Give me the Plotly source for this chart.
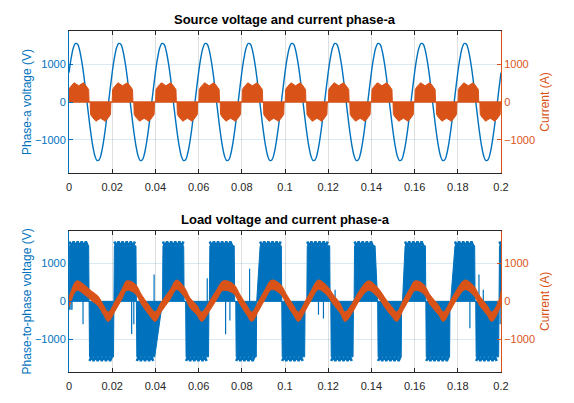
import numpy as np
import plotly.graph_objects as go
from plotly.subplots import make_subplots

BLUE = '#0072BD'
ORANGE = '#D95319'
TEXT = '#262626'
FONT = 'Liberation Sans, Arial, Helvetica, sans-serif'

# time axis (s)
t_ticks = [0, 0.02, 0.04, 0.06, 0.08, 0.1, 0.12, 0.14, 0.16, 0.18, 0.2]
t_tick_labels = ['0', '0.02', '0.04', '0.06', '0.08', '0.1', '0.12', '0.14', '0.16', '0.18', '0.2']
y_ticks = [-1000, 0, 1000]

# ---- source side ----
# phase-a source voltage, one 20 ms cycle read every 1 ms (the trace shows 10 equal cycles)
src_v_step = 0.001
src_v_cycle = [780, 1160, 1430, 1550, 1530, 1350, 1040, 640, 160, -320,
               -780, -1160, -1430, -1550, -1530, -1350, -1040, -640, -160, 320]
src_cycles = 10

# source current: conduction blocks and the (ripple-filled) block envelope
src_i_block_start = [-0.0003, 0.0098, 0.0200, 0.0300, 0.0401, 0.0500, 0.0601, 0.0700,
                     0.0801, 0.0900, 0.1001, 0.1100, 0.1201, 0.1300, 0.1401, 0.1500,
                     0.1601, 0.1700, 0.1801, 0.1902]
src_i_block_sign = [1, -1] * 10
src_i_block_width = 0.0096
src_i_env_frac = [0.0, 0.02, 0.10, 0.20, 0.28, 0.36, 0.50, 0.64, 0.72, 0.80, 0.90, 0.98, 1.0]
src_i_env_amp = [0, 330, 400, 470, 510, 480, 430, 480, 510, 470, 400, 330, 0]
src_i_idle_t = [0, 0.2]
src_i_idle = [0, 0]

# ---- load side ----
# phase-to-phase voltage: switching blocks (start, end, polarity, edge times)
load_v_start = [0.0000, 0.0093, 0.0208, 0.0312, 0.0433, 0.0540, 0.0650, 0.0772, 0.0869, 0.0985,
                0.1101, 0.1212, 0.1320, 0.1429, 0.1544, 0.1652, 0.1767, 0.1883, 0.1991]
load_v_end = [0.0093, 0.0208, 0.0312, 0.0433, 0.0533, 0.0648, 0.0767, 0.0869, 0.0985, 0.1093,
              0.1209, 0.1317, 0.1429, 0.1540, 0.1652, 0.1764, 0.1880, 0.1991, 0.2010]
load_v_sign = [1, -1, 1, -1, 1, -1, 1, -1, 1, -1, 1, -1, 1, -1, 1, -1, 1, -1, 1]
load_v_rise = [0.0002, 0.0002, 0.0002, 0.0002, 0.0002, 0.0002, 0.0002, 0.0002, 0.0016, 0.0002,
               0.0002, 0.0002, 0.0002, 0.0002, 0.0012, 0.0002, 0.0020, 0.0002, 0.0002]
load_v_fall = [0.0002, 0.0002, 0.0002, 0.0036, 0.0002, 0.0002, 0.0002, 0.0002, 0.0002, 0.0002,
               0.0002, 0.0002, 0.0012, 0.0002, 0.0002, 0.0002, 0.0002, 0.0002, 0.0002]
load_v_level = 1450
load_v_peak = 1560
load_v_dip = 1430
load_v_ripple = 0.0019
# narrow opposite-polarity pulses inside blocks
load_v_spike_t = [0.0003, 0.0009, 0.0014, 0.0065, 0.0290, 0.0300, 0.0394, 0.0640, 0.0725,
                  0.0745, 0.0836, 0.1155, 0.1178, 0.1232, 0.1856, 0.1898, 0.1918, 0.1996]
load_v_spike_v = [-220, -220, -220, -600, -850, -600, 700, 600, -860,
                  -500, 850, -350, -450, 300, -700, 700, 300, -600]

# load current phase-a: band centre read at each step, and band half-width
load_i_t = [0.0000, 0.0005, 0.0036, 0.0074, 0.0105, 0.0136, 0.0159, 0.0182, 0.0213, 0.0244,
            0.0267, 0.0306, 0.0336, 0.0375, 0.0398, 0.0429, 0.0468, 0.0498, 0.0537, 0.0560,
            0.0591, 0.0614, 0.0653, 0.0684, 0.0714, 0.0761, 0.0792, 0.0822, 0.0846, 0.0877,
            0.0907, 0.0938, 0.0977, 0.1008, 0.1038, 0.1062, 0.1093, 0.1123, 0.1154, 0.1193,
            0.1224, 0.1255, 0.1278, 0.1316, 0.1340, 0.1386, 0.1432, 0.1463, 0.1494, 0.1517,
            0.1548, 0.1579, 0.1602, 0.1640, 0.1671, 0.1710, 0.1733, 0.1764, 0.1795, 0.1833,
            0.1872, 0.1903, 0.1934, 0.1957, 0.1995, 0.2000]
load_i_mid = [-30, 60, 410, 290, 140, 0, -220, -400, -130, 175,
              410, 330, 45, -260, -400, -130, 175, 430, 215, -40,
              -220, -400, -100, 175, 410, 330, 45, -220, -400, -130,
              175, 430, 330, 45, -220, -400, -130, 175, 430, 290,
              45, -175, -400, -130, 110, 410, 215, -40, -260, -400,
              -90, 215, 410, 330, 45, -220, -400, -130, 175, 430,
              290, 0, -220, -400, -40, 150]
load_i_spread = 125


def envelope(sign_wanted):
    # one edge of the voltage band: flat level where the block has this polarity, 0 elsewhere
    xs, ys = [], []
    for s, e, sg, r, f in zip(load_v_start, load_v_end, load_v_sign, load_v_rise, load_v_fall):
        xs.append(s)
        ys.append(0)
        if sg == sign_wanted:
            xs += [s + r, e - f]
            ys += [sg * load_v_level, sg * load_v_level]
        xs.append(e)
        ys.append(0)
    return xs, ys


def ripple_edges():
    # scalloped top/bottom of each switching block
    xs, ys = [], []
    for s, e, sg, r, f in zip(load_v_start, load_v_end, load_v_sign, load_v_rise, load_v_fall):
        t = s + r
        k = 0
        while t <= e - f:
            xs.append(t)
            ys.append(sg * (load_v_peak if k % 2 == 0 else load_v_dip))
            t += load_v_ripple / 2
            k += 1
        xs.append(None)
        ys.append(None)
    return xs, ys


fig = make_subplots(rows=2, cols=1, specs=[[{'secondary_y': True}], [{'secondary_y': True}]])

# top: source voltage and current
t_src = np.arange(len(src_v_cycle) * src_cycles + 1) * src_v_step
v_src = src_v_cycle * src_cycles + src_v_cycle[:1]
fig.add_trace(go.Scatter(x=t_src, y=v_src, mode='lines', line=dict(color=BLUE, width=1.4, shape='spline')),
              row=1, col=1, secondary_y=False)

fig.add_trace(go.Scatter(x=src_i_idle_t, y=src_i_idle, mode='lines', line=dict(color=ORANGE, width=1.5)),
              row=1, col=1, secondary_y=True)
for s, sg in zip(src_i_block_start, src_i_block_sign):
    fig.add_trace(go.Scatter(x=[s + f * src_i_block_width for f in src_i_env_frac],
                             y=[sg * a for a in src_i_env_amp], mode='lines', fill='toself',
                             fillcolor=ORANGE, line=dict(color=ORANGE, width=1)),
                  row=1, col=1, secondary_y=True)

# bottom: load voltage and current
lo_x, lo_y = envelope(-1)
hi_x, hi_y = envelope(1)
fig.add_trace(go.Scatter(x=lo_x, y=lo_y, mode='lines', line=dict(color=BLUE, width=1)),
              row=2, col=1, secondary_y=False)
fig.add_trace(go.Scatter(x=hi_x, y=hi_y, mode='lines', fill='tonexty', fillcolor=BLUE,
                         line=dict(color=BLUE, width=1)),
              row=2, col=1, secondary_y=False)
rx, ry = ripple_edges()
fig.add_trace(go.Scatter(x=rx, y=ry, mode='lines', line=dict(color=BLUE, width=2.5)),
              row=2, col=1, secondary_y=False)
sx, sy = [], []
for t, v in zip(load_v_spike_t, load_v_spike_v):
    sx += [t, t, None]
    sy += [0, v, None]
fig.add_trace(go.Scatter(x=sx, y=sy, mode='lines', line=dict(color=BLUE, width=1.2)),
              row=2, col=1, secondary_y=False)

i_hi = [m + load_i_spread for m in load_i_mid]
i_lo = [m - load_i_spread for m in load_i_mid]
fig.add_trace(go.Scatter(x=load_i_t, y=i_lo, mode='lines', line=dict(color=ORANGE, width=1, shape='spline')),
              row=2, col=1, secondary_y=True)
fig.add_trace(go.Scatter(x=load_i_t, y=i_hi, mode='lines', fill='tonexty', fillcolor=ORANGE,
                         line=dict(color=ORANGE, width=1, shape='spline')),
              row=2, col=1, secondary_y=True)

# axes
tick_font = dict(family=FONT, size=11)
for row, yr, dom in [(1, 1880, [0.5836, 1.0]), (2, 1845, [0.0, 0.4144])]:
    fig.update_xaxes(row=row, col=1, domain=[0, 1], range=[0, 0.2], tickvals=t_ticks, ticktext=t_tick_labels,
                     ticks='inside', ticklen=4, tickcolor=TEXT, showline=True, linecolor=TEXT,
                     linewidth=1, mirror='ticks', showgrid=True, gridcolor='rgba(38,38,38,0.15)',
                     zeroline=False, tickfont=dict(color=TEXT, **tick_font), ticklabelstandoff=4,
                     automargin=False)
    fig.update_yaxes(row=row, col=1, secondary_y=False, range=[-yr, yr], domain=dom,
                     tickvals=y_ticks, ticks='inside', ticklen=4, tickcolor=BLUE,
                     showline=True, linecolor=BLUE, linewidth=1, showgrid=True,
                     gridcolor='rgba(0,114,189,0.15)', zeroline=False, automargin=False,
                     tickfont=dict(color=BLUE, **tick_font))
    fig.update_yaxes(row=row, col=1, secondary_y=True, range=[-yr, yr], domain=dom,
                     tickvals=y_ticks, ticks='inside', ticklen=4, tickcolor=ORANGE,
                     showline=True, linecolor=ORANGE, linewidth=1, showgrid=False, zeroline=False,
                     automargin=False, tickfont=dict(color=ORANGE, **tick_font))

fig.update_yaxes(row=1, col=1, secondary_y=False,
                 title=dict(text='Phase-a voltage (V)', font=dict(family=FONT, size=12, color=BLUE), standoff=0))
fig.update_yaxes(row=2, col=1, secondary_y=False,
                 title=dict(text='Phase-to-phase voltage (V)', font=dict(family=FONT, size=12, color=BLUE), standoff=0))
for row in (1, 2):
    fig.update_yaxes(row=row, col=1, secondary_y=True,
                     title=dict(text='Current (A)', font=dict(family=FONT, size=12, color=ORANGE), standoff=6))

for text, ytop in [('Source voltage and current phase-a', 1.0), ('Load voltage and current phase-a', 0.4144)]:
    fig.add_annotation(text='<b>' + text + '</b>', x=0.5, xref='paper', y=ytop, yref='paper',
                       xanchor='center', yanchor='bottom', yshift=2, showarrow=False,
                       font=dict(family=FONT, size=13, color='#000000'))

# the page keeps its default 8 px body margin, so the figure is sized to the rest of the window
fig.update_layout(width=566, height=395, autosize=False, margin=dict(l=61, r=73, t=23, b=31),
                  paper_bgcolor='white', plot_bgcolor='white', showlegend=False)

fig.write_html("out.html")
